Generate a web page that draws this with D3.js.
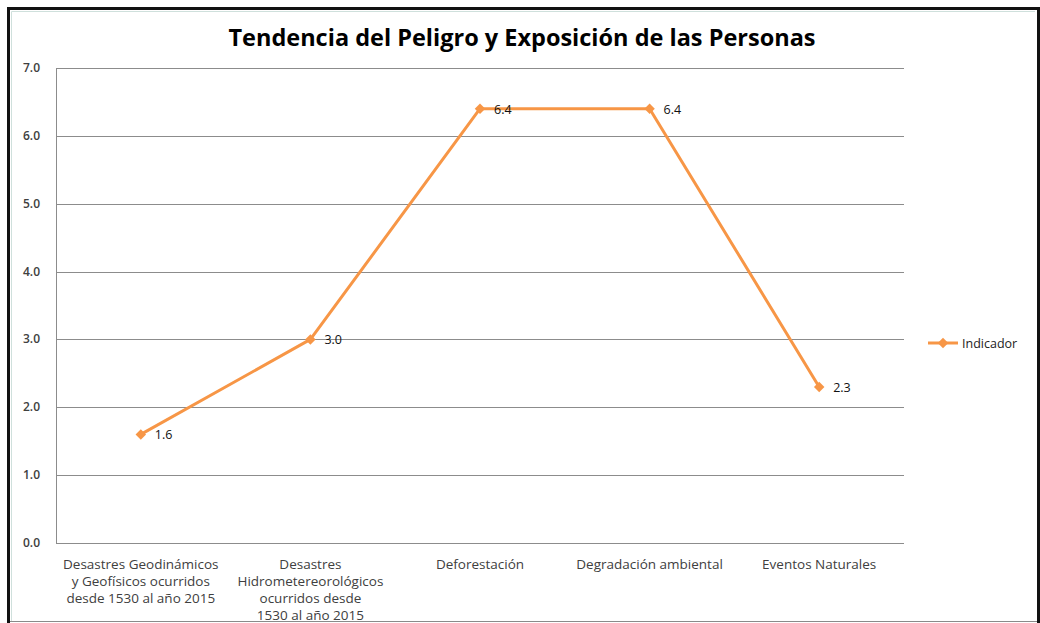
<meta charset="utf-8">
<script src="https://d3js.org/d3.v7.js"></script>
<style>
body { margin: 0; background: white; }
svg { font-family: 'Open Sans', sans-serif; display: block; }
</style>
<div id="chart"></div>
<script>
// chart data
var categories = [
  ["Desastres Geodinámicos", "y Geofísicos ocurridos", "desde 1530 al año 2015"],
  ["Desastres", "Hidrometereorológicos", "ocurridos desde", "1530 al año 2015"],
  ["Deforestación"],
  ["Degradación ambiental"],
  ["Eventos Naturales"]
];
var values = [1.6, 3.0, 6.4, 6.4, 2.3];
var yTicks = [0, 1, 2, 3, 4, 5, 6, 7];
var seriesName = "Indicador";
var title = "Tendencia del Peligro y Exposición de las Personas";

var W = 1040, H = 623;
var orange = "#F79646";

var svg = d3.select("#chart").append("svg")
  .attr("width", W).attr("height", H);

// frame
svg.append("rect").attr("x", 8.5).attr("y", 8.5).attr("width", 1029).attr("height", 613)
  .attr("fill", "white").attr("stroke", "#8a8a8a").attr("stroke-width", 1);
svg.append("path").attr("d", "M8.5,623 V8.5 H1038.5 V623")
  .attr("fill", "none").attr("stroke", "#111").attr("stroke-width", 3);
svg.append("path").attr("d", "M11.5,621 V11.5 H1035")
  .attr("fill", "none").attr("stroke", "#cfe0dc").attr("stroke-width", 1);

var plotL = 56, plotR = 904, plotT = 68, plotB = 543;

var x = d3.scaleBand()
  .domain(d3.range(categories.length))
  .range([plotL, plotR]);

var y = d3.scaleLinear()
  .domain([0, 7])
  .range([plotB, plotT]);

// gridlines
svg.append("g").selectAll("line")
  .data(yTicks)
  .enter().append("line")
  .attr("x1", plotL).attr("x2", plotR)
  .attr("y1", d => Math.round(y(d)) + 0.5).attr("y2", d => Math.round(y(d)) + 0.5)
  .attr("stroke", "#8c8c8c").attr("stroke-width", 1);

svg.append("line")
  .attr("x1", plotL + 0.5).attr("x2", plotL + 0.5)
  .attr("y1", plotT).attr("y2", plotB)
  .attr("stroke", "#8c8c8c");

// y labels
svg.append("g").selectAll("text")
  .data(yTicks)
  .enter().append("text")
  .attr("x", 40).attr("y", d => y(d) + 4)
  .attr("text-anchor", "end")
  .attr("font-size", 12).attr("font-weight", 600)
  .attr("fill", "#404040")
  .text(d => d3.format(".1f")(d));

// category labels
var cat = svg.append("g").selectAll("text")
  .data(categories)
  .enter().append("text")
  .attr("text-anchor", "middle")
  .attr("font-size", 13.5)
  .attr("fill", "#404040");
cat.each(function(lines, i) {
  d3.select(this).selectAll("tspan")
    .data(lines)
    .enter().append("tspan")
    .attr("x", x(i) + x.bandwidth() / 2)
    .attr("y", (d, j) => 569 + j * 17)
    .text(d => d);
});

// line
var line = d3.line()
  .x((d, i) => x(i) + x.bandwidth() / 2)
  .y(d => y(d));

svg.append("path")
  .datum(values)
  .attr("d", line)
  .attr("fill", "none")
  .attr("stroke", orange)
  .attr("stroke-width", 3)
  .attr("stroke-linejoin", "round");

var diamond = d3.symbol().type(d3.symbolDiamond2).size(70);

svg.append("g").selectAll("path")
  .data(values)
  .enter().append("path")
  .attr("d", diamond)
  .attr("transform", (d, i) => "translate(" + (x(i) + x.bandwidth() / 2) + "," + y(d) + ")")
  .attr("fill", orange);

// data labels
svg.append("g").selectAll("text")
  .data(values)
  .enter().append("text")
  .attr("x", (d, i) => x(i) + x.bandwidth() / 2 + 14)
  .attr("y", d => y(d) + 5)
  .attr("font-size", 12.5)
  .attr("fill", "#111")
  .text(d => d3.format(".1f")(d));

// legend
svg.append("line")
  .attr("x1", 928).attr("x2", 958).attr("y1", 343).attr("y2", 343)
  .attr("stroke", orange).attr("stroke-width", 3);
svg.append("path").attr("d", diamond)
  .attr("transform", "translate(943,343)")
  .attr("fill", orange);
svg.append("text")
  .attr("x", 962).attr("y", 347.5)
  .attr("font-size", 12.5).attr("fill", "#222")
  .text(seriesName);

// title
svg.append("text")
  .attr("x", 522).attr("y", 46)
  .attr("text-anchor", "middle")
  .attr("font-size", 23.5).attr("font-weight", 700)
  .attr("fill", "#000")
  .text(title);
</script>
